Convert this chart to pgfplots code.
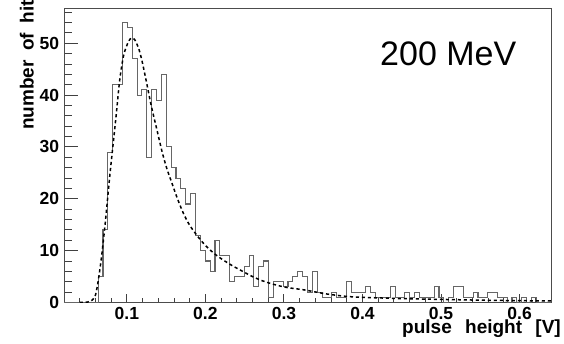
\documentclass[border=0pt]{standalone}
\usepackage{fontspec}
\setmainfont{Liberation Sans}
\usepackage{pgfplots}
\pgfplotsset{compat=1.18}
\begin{document}
\begin{tikzpicture}
\useasboundingbox (-64pt,-41.5pt) rectangle (500pt,302.5pt);
\begin{axis}[
  at={(0,0)}, anchor=south west,
  scale only axis, width=487pt, height=294.5pt,
  xmin=0.02, xmax=0.64, ymin=0, ymax=56.8,
  axis line style={draw=black!70, line width=0.9pt},
  tick style={draw=black!75, line width=0.9pt},
  tick align=inside, xtick pos=bottom, ytick pos=left,
  xtick={0.1,0.2,0.3,0.4,0.5,0.6},
  xticklabels={0.1,0.2,0.3,0.4,0.5,0.6},
  ytick={0,10,20,30,40,50},
  yticklabels={0,10,20,30,40,50},
  minor xtick={0.04,0.06,0.08,0.12,0.14,0.16,0.18,0.22,0.24,0.26,0.28,0.32,0.34,0.36,0.38,0.42,0.44,0.46,0.48,0.52,0.54,0.56,0.58,0.62},
  minor ytick={2,4,6,8,12,14,16,18,22,24,26,28,32,34,36,38,42,44,46,48,52,54,56},
  xtick style={/pgfplots/major tick length=8.3pt, /pgfplots/minor tick length=4.3pt},
  ytick style={/pgfplots/major tick length=14pt, /pgfplots/minor tick length=7.7pt},
  /pgf/number format/assume math mode=true,
  ticklabel style={font=\fontsize{17.5}{19}\selectfont\bfseries, inner sep=0pt},
  xticklabel style={yshift=-5.0pt},
  yticklabel style={xshift=-4.7pt},
  xlabel={\textbf{pulse\hspace{0.7em}height\hspace{0.7em}[V]}},
  xlabel style={font=\fontsize{19}{21}\selectfont, at={(axis description cs:1.0205,-0.1036)}, anchor=base east, inner sep=0pt},
  ylabel={\textbf{number\hspace{0.5em}of\hspace{0.5em}hits}},
  ylabel style={font=\fontsize{19}{21}\selectfont, at={(axis description cs:-0.0625,0.5857)}, anchor=base west, inner sep=0pt},
]
\addplot[const plot, draw=black!60, line width=1.1pt] coordinates {
(0.0200,0) (0.0262,0) (0.0324,0) (0.0386,0) (0.0448,0) (0.0510,0) (0.0572,0)
(0.0634,5) (0.0696,14) (0.0758,29) (0.0820,42) (0.0882,42) (0.0944,54) (0.1006,53)
(0.1068,47) (0.1130,40) (0.1192,41) (0.1254,28) (0.1316,41) (0.1378,39) (0.1440,44)
(0.1502,30) (0.1564,26) (0.1626,24) (0.1688,22) (0.1750,19) (0.1812,21) (0.1874,13)
(0.1936,10) (0.1998,8) (0.2060,6) (0.2122,12) (0.2184,9) (0.2246,9) (0.2308,4)
(0.2370,5) (0.2432,5) (0.2494,7) (0.2556,9) (0.2618,3) (0.2680,7) (0.2742,8)
(0.2804,1) (0.2866,4) (0.2928,4) (0.2990,3) (0.3052,4) (0.3114,5) (0.3176,6)
(0.3238,5) (0.3300,2) (0.3362,6) (0.3424,2) (0.3486,1) (0.3548,1) (0.3610,2)
(0.3672,1) (0.3734,1) (0.3796,4) (0.3858,2) (0.3920,2) (0.3982,2) (0.4044,3)
(0.4106,2) (0.4168,1) (0.4230,1) (0.4292,1) (0.4354,3) (0.4416,1) (0.4478,1)
(0.4540,2) (0.4602,1) (0.4664,2) (0.4726,1) (0.4788,1) (0.4850,1) (0.4912,3)
(0.4974,1) (0.5036,0) (0.5098,1) (0.5160,3) (0.5222,3) (0.5284,1) (0.5346,1)
(0.5408,2) (0.5470,1) (0.5532,1) (0.5594,2) (0.5656,2) (0.5718,1) (0.5780,1)
(0.5842,0) (0.5904,1) (0.5966,0) (0.6028,1) (0.6090,0) (0.6152,1) (0.6214,0)
(0.6276,0) (0.6338,0) (0.6400,0)
};
\addplot[smooth, draw=black, line width=1.5pt, dash pattern=on 3.2pt off 2.8pt] coordinates {
(0.040,0) (0.045,0.02) (0.050,0.08) (0.055,0.35) (0.060,1.4) (0.064,4.6) (0.068,9.1)
(0.072,14.6) (0.0765,21.6) (0.079,25.5) (0.083,31.2) (0.087,37) (0.091,43)
(0.096,47.7) (0.102,50.3) (0.106,51.0) (0.110,50.7) (0.115,49) (0.119,46.8)
(0.125,42.5) (0.131,38) (0.138,33.5) (0.145,29) (0.151,25.8) (0.157,23.2)
(0.164,20.2) (0.172,17.2) (0.180,14.9) (0.191,12.6) (0.202,10.7) (0.215,9.0)
(0.232,7.3) (0.250,5.8) (0.260,5.0) (0.276,4.0) (0.300,3.0) (0.327,2.4)
(0.352,1.7) (0.378,1.2) (0.400,1.0) (0.450,0.75) (0.500,0.6) (0.550,0.45)
(0.600,0.35) (0.640,0.3)
};
\node[anchor=base west, inner sep=0pt, font=\fontsize{34}{40}\selectfont] at (axis description cs:0.6489,0.8041) {200 MeV};
\end{axis}
\end{tikzpicture}
\end{document}
